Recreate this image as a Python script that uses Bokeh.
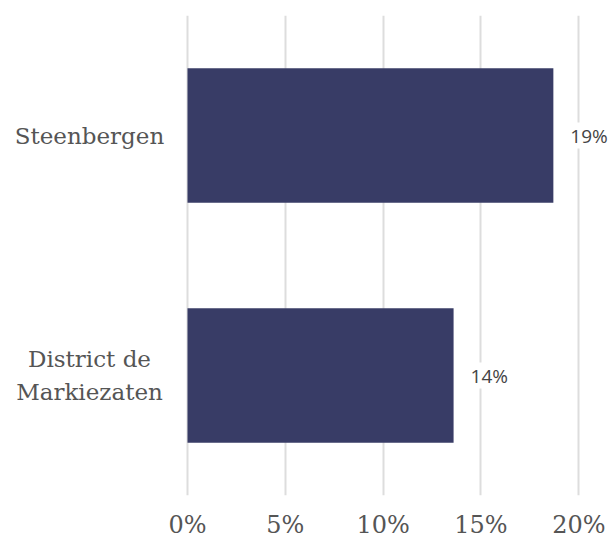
from bokeh.plotting import figure
from bokeh.models import ColumnDataSource, FactorRange, Range1d, FixedTicker, LabelSet
from bokeh.core.properties import value
from bokeh.embed import file_html
from bokeh.resources import INLINE

categories = ["District de\nMarkiezaten", "Steenbergen"]
values = [13.6, 18.7]
value_labels = ["14%", "19%"]
tick_values = [0, 5, 10, 15, 20]
tick_labels = ["0%", "5%", "10%", "15%", "20%"]

# layout constants (pixel geometry)
PX_PER_UNIT = 19.565
LEFT_PX = 187
WIDTH = 608
CAT_LABEL_CENTER_PX = 89

src = ColumnDataSource(dict(cat=categories, val=values, lab=value_labels))

x_start = -LEFT_PX / PX_PER_UNIT
x_end = (WIDTH - LEFT_PX) / PX_PER_UNIT
cat_x = (CAT_LABEL_CENTER_PX - LEFT_PX) / PX_PER_UNIT

p = figure(frame_width=WIDTH, frame_height=480, output_backend="svg", toolbar_location=None,
           y_range=FactorRange(factors=categories, range_padding=0),
           x_range=Range1d(x_start, x_end),
           min_border_left=0, min_border_right=0, min_border_top=15, min_border_bottom=0)
p.outline_line_color = None
p.background_fill_color = "white"

p.hbar(y="cat", left=0, right="val", height=0.56, source=src,
       fill_color="#383c66", line_color=None)

p.text(x=cat_x, y="cat", text="cat", source=src,
       text_baseline="middle", text_align="center",
       text_font=value("DejaVu Serif"), text_font_size="23px",
       text_color="#555555", text_line_height=1.3)

labels = LabelSet(x="val", y="cat", text="lab", source=src, x_offset=17,
                  text_baseline="middle", text_align="left",
                  text_font=value("Open Sans"), text_font_size="19px",
                  text_color="#444444", background_fill_color="white")
p.add_layout(labels)

p.xgrid.ticker = FixedTicker(ticks=tick_values)
p.xgrid.grid_line_color = "#dddddd"
p.xgrid.grid_line_width = 2
p.ygrid.grid_line_color = None

xa = p.xaxis[0]
xa.ticker = FixedTicker(ticks=tick_values)
xa.major_label_overrides = {t: l for t, l in zip(tick_values, tick_labels)}
xa.axis_line_color = None
xa.major_tick_line_color = None
xa.minor_tick_line_color = None
xa.major_label_text_font = "DejaVu Serif"
xa.major_label_text_font_size = "24px"
xa.major_label_text_color = "#555555"
xa.major_label_standoff = 9

p.yaxis.visible = False

open("out.html", "w").write(file_html(p, INLINE))
